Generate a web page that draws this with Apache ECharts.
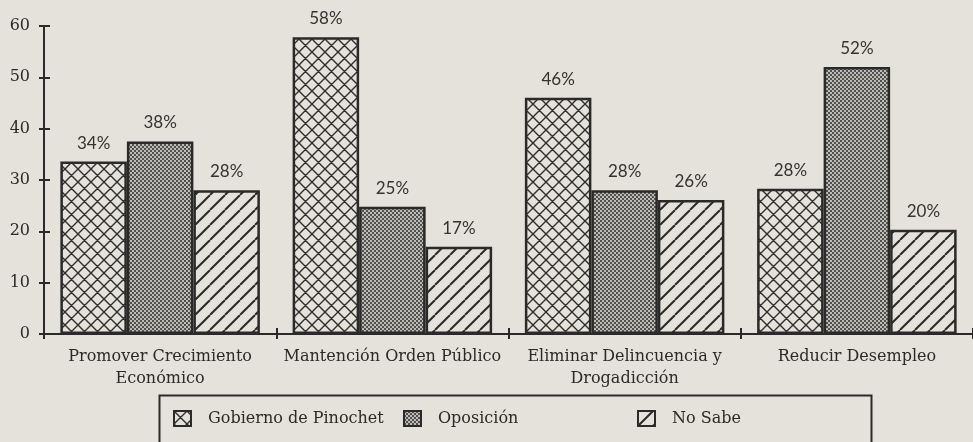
<!DOCTYPE html>
<html>
<head>
<meta charset="utf-8">
<script src="https://cdn.jsdelivr.net/npm/echarts@6/dist/echarts.min.js"></script>
<style>
html,body{margin:0;padding:0;background:#e4e2da;}
#chart{width:973px;height:442px;}
</style>
</head>
<body>
<div id="chart"></div>
<script>
// ---- data ----
const categories = ['Promover Crecimiento\nEconómico', 'Mantención Orden Público', 'Eliminar Delincuencia y\nDrogadicción', 'Reducir Desempleo'];
const seriesNames = ['Gobierno de Pinochet', 'Oposición', 'No Sabe'];
const gobierno = [33.6, 57.8, 46.0, 28.3];
const oposicion = [37.5, 24.8, 28.0, 52.0];
const noSabe = [28.0, 17.0, 26.1, 20.3];
const yTicks = [0, 10, 20, 30, 40, 50, 60];

const BG = '#e4e2da';
const INK = '#2a2a2a';

function tile(size) {
  const c = document.createElement('canvas');
  c.width = size; c.height = size;
  const g = c.getContext('2d');
  g.fillStyle = BG; g.fillRect(0, 0, size, size);
  return [c, g];
}
function crossPattern() {
  const s = 13; const [c, g] = tile(s);
  g.strokeStyle = '#2e2e2e'; g.lineWidth = 1.4; g.beginPath();
  for (let k = -1; k <= 1; k++) {
    g.moveTo(k * s, 0); g.lineTo(k * s + s, s);
    g.moveTo(k * s + s, 0); g.lineTo(k * s, s);
  }
  g.stroke(); return c;
}
function stripePattern() {
  const s = 15; const [c, g] = tile(s);
  g.strokeStyle = '#2a2a2a'; g.lineWidth = 2; g.beginPath();
  for (let k = -1; k <= 1; k++) { g.moveTo(k * s + s, 0); g.lineTo(k * s, s); }
  g.stroke(); return c;
}
function checkerPattern() {
  const c = document.createElement('canvas');
  c.width = 4; c.height = 4;
  const g = c.getContext('2d');
  g.fillStyle = '#bdbcb7'; g.fillRect(0, 0, 4, 4);
  g.fillStyle = '#515151'; g.fillRect(0, 0, 2, 2); g.fillRect(2, 2, 2, 2);
  return c;
}

const fills = [
  { image: crossPattern(), repeat: 'repeat' },
  { image: checkerPattern(), repeat: 'repeat' },
  { image: stripePattern(), repeat: 'repeat' }
];
const values = [gobierno, oposicion, noSabe];

const serif = 'DejaVu Serif';
const chart = echarts.init(document.getElementById('chart'), null, { renderer: 'canvas' });

const legendLefts = [173, 403, 637];

chart.setOption({
  backgroundColor: BG,
  animation: false,
  grid: { left: 44, top: 26, width: 935, height: 308 },
  xAxis: [{
    type: 'category', data: categories,
    axisLine: { lineStyle: { color: INK, width: 2 } },
    axisTick: { show: true, length: 5, lineStyle: { color: INK, width: 2 } },
    axisLabel: { color: INK, fontFamily: serif, fontSize: 16, lineHeight: 22, margin: 12, interval: 0 }
  }, {
    type: 'category', data: categories, position: 'bottom',
    axisLine: { show: false },
    axisTick: { show: true, inside: true, length: 6, lineStyle: { color: INK, width: 2 } },
    axisLabel: { show: false }
  }],
  yAxis: [{
    type: 'value', min: 0, max: 60, interval: 10,
    axisLine: { show: true, lineStyle: { color: INK, width: 2 } },
    axisTick: { show: true, length: 5, lineStyle: { color: INK, width: 2 } },
    splitLine: { show: false },
    axisLabel: { color: INK, fontFamily: serif, fontSize: 16, margin: 14,
      formatter: v => (yTicks.indexOf(v) >= 0 ? String(v) : '') }
  }, {
    type: 'value', min: 0, max: 60, interval: 10, position: 'left', offset: 0,
    axisLine: { show: false },
    axisTick: { show: true, inside: true, length: 6, lineStyle: { color: INK, width: 2 } },
    splitLine: { show: false },
    axisLabel: { show: false }
  }],
  legend: seriesNames.map((n, i) => ({
    data: [n], left: legendLefts[i], top: 410, padding: 0, itemWidth: 17, itemHeight: 15,
    icon: 'rect',
    itemStyle: { borderColor: INK, borderWidth: 2 },
    textStyle: { color: INK, fontFamily: serif, fontSize: 16, padding: [2, 0, 0, 12] },
    selectedMode: false
  })),
  graphic: [{
    type: 'rect', left: 157, top: 393, silent: true,
    shape: { width: 712, height: 70 },
    style: { fill: 'none', stroke: INK, lineWidth: 2 }
  }],
  series: seriesNames.map((n, i) => ({
    name: n, type: 'bar', data: values[i],
    barWidth: 66.5, barGap: '0%',
    itemStyle: { color: fills[i], borderColor: INK, borderWidth: 2.5 },
    label: {
      show: true, position: 'top', distance: 10,
      color: '#333', fontFamily: 'Lato', fontSize: 17,
      formatter: p => Math.round(p.value) + '%'
    }
  }))
});
</script>
</body>
</html>
